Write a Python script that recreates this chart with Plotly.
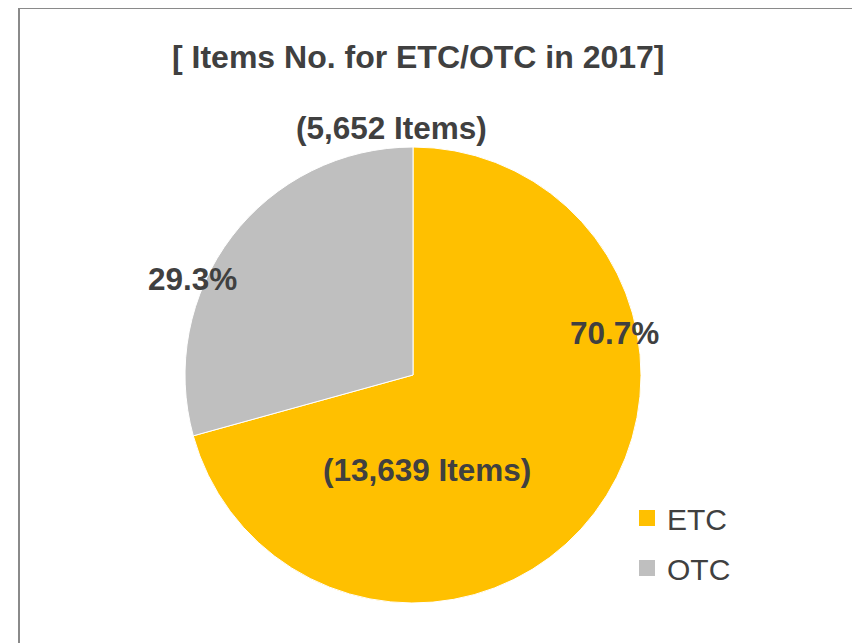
import plotly.graph_objects as go

categories = ["ETC", "OTC"]
item_counts = [13639, 5652]
colors = ["#FFC000", "#BFBFBF"]
title_text = "[ Items No. for ETC/OTC in 2017]"

FONT = "Liberation Sans, Arial, sans-serif"
TXT = "#404040"
W, H = 860, 643
OFF = 8  # page body margin offset


def fx(px):
    return (px - OFF) / W


def fy(py):
    return 1 - (py - OFF) / H


total = sum(item_counts)
pcts = [v / total * 100 for v in item_counts]

fig = go.Figure()
fig.add_trace(go.Pie(
    labels=categories, values=item_counts, sort=False, direction="clockwise",
    rotation=0, marker=dict(colors=colors, line=dict(color="white", width=1)),
    textinfo="none", hoverinfo="label+value+percent", showlegend=False,
    domain=dict(x=[fx(185), fx(641)], y=[fy(603), fy(147)]),
))

# legend entries
for cat, col in zip(categories, colors):
    fig.add_trace(go.Scatter(
        x=[None], y=[None], mode="markers", name=cat, legendgroup=cat,
        marker=dict(symbol="square", size=16, color=col), showlegend=True,
    ))

# label positions (pixel centers) per category
pct_pos = {"ETC": (614, 333), "OTC": (192, 279)}
cnt_pos = {"ETC": (427, 470), "OTC": (391, 128)}

annotations = []
for cat, v, p in zip(categories, item_counts, pcts):
    px, py = pct_pos[cat]
    annotations.append(dict(x=fx(px), y=fy(py), xref="paper", yref="paper",
                            text=f"<b>{p:.1f}%</b>", showarrow=False,
                            font=dict(family=FONT, size=31.5, color=TXT),
                            xanchor="center", yanchor="middle"))
    cx, cy = cnt_pos[cat]
    annotations.append(dict(x=fx(cx), y=fy(cy), xref="paper", yref="paper",
                            text=f"<b>({v:,} Items)</b>", showarrow=False,
                            font=dict(family=FONT, size=31.5, color=TXT),
                            xanchor="center", yanchor="middle"))
annotations.append(dict(x=fx(418), y=fy(57), xref="paper", yref="paper",
                        text=f"<b>{title_text}</b>", showarrow=False,
                        font=dict(family=FONT, size=32, color=TXT),
                        xanchor="center", yanchor="middle"))

fig.update_layout(
    width=W, height=H, margin=dict(l=0, r=0, t=0, b=0),
    paper_bgcolor="white", plot_bgcolor="white",
    xaxis=dict(visible=False), yaxis=dict(visible=False),
    annotations=annotations,
    legend=dict(x=fx(627), xanchor="left", y=fy(492), yanchor="top",
                font=dict(family=FONT, size=30, color=TXT),
                tracegroupgap=8, bgcolor="rgba(0,0,0,0)", itemclick=False),
    shapes=[dict(type="rect", xref="paper", yref="paper",
                 x0=fx(19), x1=fx(853), y0=-0.05, y1=fy(8),
                 line=dict(color="#8a8a8a", width=2), fillcolor="rgba(0,0,0,0)",
                 layer="below")],
)

fig.write_html("out.html")
